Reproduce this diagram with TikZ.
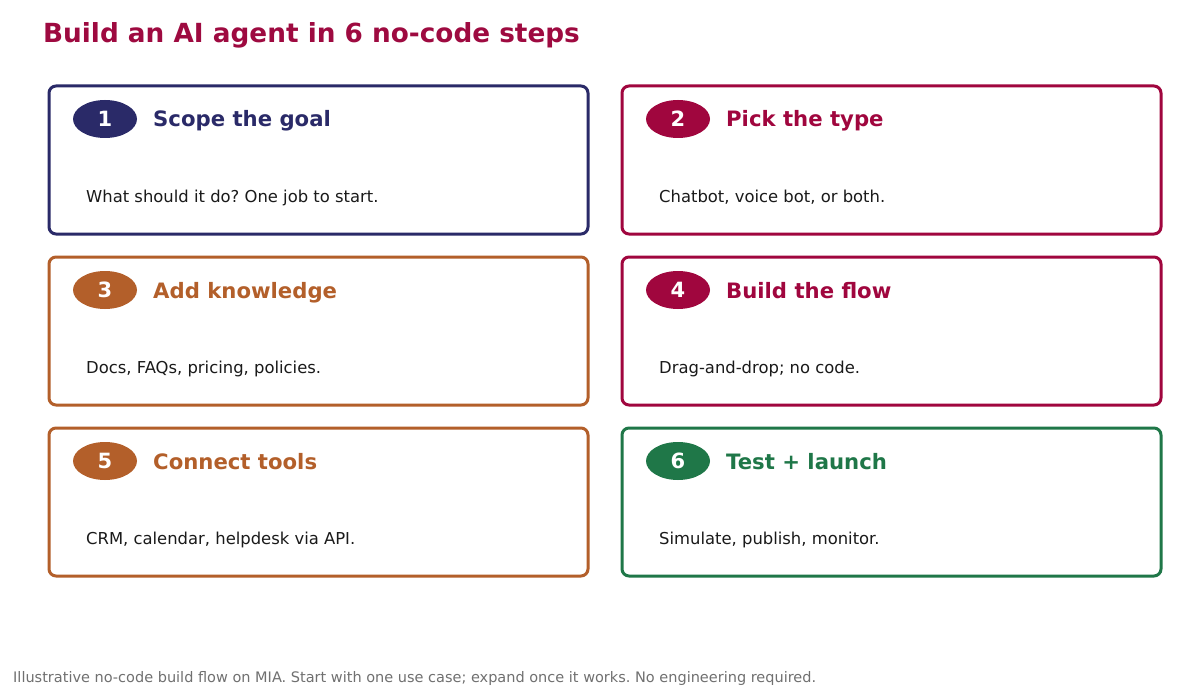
\documentclass[tikz,border=0pt]{standalone}
\usepackage{fontspec}
\setmainfont{DejaVu Sans}
\usetikzlibrary{shapes.geometric,calc}
\definecolor{cnavy}{HTML}{2A2A68}
\definecolor{ccrim}{HTML}{A0063E}
\definecolor{corange}{HTML}{B35F2A}
\definecolor{cgreen}{HTML}{1F7748}
\definecolor{ctitle}{HTML}{9E0A40}
\definecolor{cbody}{HTML}{1A1A1A}
\definecolor{cfoot}{HTML}{707070}
\tikzset{
  card/.style={draw=#1, line width=3pt, rounded corners=7pt},
  badge/.style={ellipse, fill=#1, minimum width=64pt, minimum height=38pt, inner sep=0pt, text=white, font=\fontsize{21}{25}\selectfont\bfseries},
  steptitle/.style={anchor=base west, text=#1, inner sep=0pt, font=\fontsize{21.2}{25}\selectfont\bfseries},
  bodytext/.style={anchor=base west, text=cbody, inner sep=0pt, font=\fontsize{16.4}{19}\selectfont},
}
\newcommand{\stepcard}[6]{%
  \draw[card=#4] (#2,#3) rectangle ++(539,148);
  \node[badge=#4] (#1b) at ($(#2,#3)+(56,33)$) {#5};
  \node[steptitle=#4] (#1t) at ($(#2,#3)+(104,41)$) {#6};
}
\begin{document}
\frenchspacing
\begin{tikzpicture}[x=1pt,y=-1pt]
\useasboundingbox (0,0) rectangle (1200,698);
\fill[white] (0,0) rectangle (1200,698);
\node[anchor=base west, inner sep=0pt, text=ctitle, font=\fontsize{26.3}{31}\selectfont\bfseries] (title) at (43,43) {Build an AI agent in 6 no-code steps};
\stepcard{s1}{49}{86}{cnavy}{1}{Scope the goal}
\node[bodytext] (s1d) at (86,202) {What should it do? One job to start.};
\stepcard{s2}{622}{86}{ccrim}{2}{Pick the type}
\node[bodytext] (s2d) at (659,202) {Chatbot, voice bot, or both.};
\stepcard{s3}{49}{257}{corange}{3}{Add knowledge}
\node[bodytext] (s3d) at (86,373) {Docs, FAQs, pricing, policies.};
\stepcard{s4}{622}{257}{ccrim}{4}{Build the flow}
\node[bodytext] (s4d) at (659,373) {Drag-and-drop; no code.};
\stepcard{s5}{49}{428}{corange}{5}{Connect tools}
\node[bodytext] (s5d) at (86,544) {CRM, calendar, helpdesk via API.};
\stepcard{s6}{622}{428}{cgreen}{6}{Test + launch}
\node[bodytext] (s6d) at (659,544) {Simulate, publish, monitor.};
\node[anchor=base west, inner sep=0pt, text=cfoot, font=\fontsize{14.5}{17}\selectfont] (foot) at (13,682) {Illustrative no-code build flow on MIA. Start with one use case; expand once it works. No engineering required.};
\end{tikzpicture}
\end{document}
